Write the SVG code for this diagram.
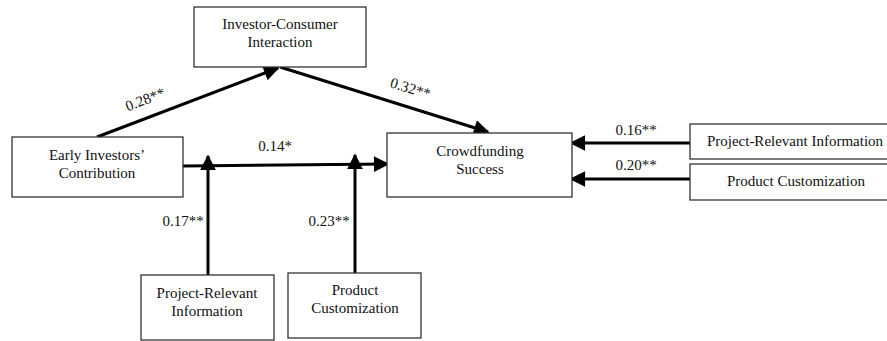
<svg xmlns="http://www.w3.org/2000/svg" width="887" height="341" viewBox="0 0 887 341">
  <style>
    .box { fill: #fff; stroke: #333; stroke-width: 1.3; }
    .lbl { font-family: "Liberation Serif", "Times New Roman", Times, serif; font-size: 15px; fill: #111; text-anchor: middle; }
    .edge { stroke: #000; stroke-width: 3; fill: none; marker-end: url(#arrow); }
  </style>
  <defs>
    <marker id="arrow" viewBox="0 0 10 10" refX="9" refY="5" markerWidth="6" markerHeight="5.2" orient="auto" markerUnits="strokeWidth">
      <path d="M0,0 L10,5 L0,10 z" fill="#000"/>
    </marker>
  </defs>
  <rect width="887" height="341" fill="#fff"/>

  <g id="connectors">
    <line class="edge" x1="97" y1="137" x2="278" y2="68"/>
    <line class="edge" x1="280" y1="67" x2="488" y2="132"/>
    <line class="edge" x1="183" y1="166" x2="388" y2="164"/>
    <line class="edge" x1="208" y1="275" x2="208" y2="156"/>
    <line class="edge" x1="355" y1="273" x2="355" y2="155"/>
    <line class="edge" x1="690" y1="143" x2="571" y2="143"/>
    <line class="edge" x1="690" y1="179" x2="571" y2="179"/>
    <text class="lbl" transform="translate(147,104) rotate(-21)">0.28**</text>
    <text class="lbl" transform="translate(409,93) rotate(17)">0.32**</text>
    <text class="lbl" x="275" y="151">0.14*</text>
    <text class="lbl" x="636" y="135">0.16**</text>
    <text class="lbl" x="636" y="170">0.20**</text>
    <text class="lbl" x="183" y="226">0.17**</text>
    <text class="lbl" x="329" y="226">0.23**</text>
  </g>

  <g id="interaction">
    <rect class="box" x="194" y="7" width="172" height="60"/>
    <text class="lbl" x="280" y="29">Investor-Consumer</text>
    <text class="lbl" x="280" y="47">Interaction</text>
  </g>
  <g id="early">
    <rect class="box" x="12" y="137" width="171" height="60"/>
    <text class="lbl" x="97" y="160">Early Investors’</text>
    <text class="lbl" x="97" y="178">Contribution</text>
  </g>
  <g id="success">
    <rect class="box" x="387" y="133" width="185" height="64"/>
    <text class="lbl" x="480" y="156">Crowdfunding</text>
    <text class="lbl" x="480" y="174">Success</text>
  </g>
  <g id="info-right">
    <rect class="box" x="690" y="124" width="200" height="35"/>
    <text class="lbl" x="795" y="146">Project-Relevant Information</text>
  </g>
  <g id="custom-right">
    <rect class="box" x="690" y="164" width="200" height="36"/>
    <text class="lbl" x="796" y="186">Product Customization</text>
  </g>
  <g id="info-bottom">
    <rect class="box" x="141" y="275" width="133" height="65"/>
    <text class="lbl" x="207" y="298">Project-Relevant</text>
    <text class="lbl" x="207" y="316">Information</text>
  </g>
  <g id="custom-bottom">
    <rect class="box" x="288" y="273" width="133" height="65"/>
    <text class="lbl" x="355" y="295">Product</text>
    <text class="lbl" x="355" y="313">Customization</text>
  </g>
</svg>
